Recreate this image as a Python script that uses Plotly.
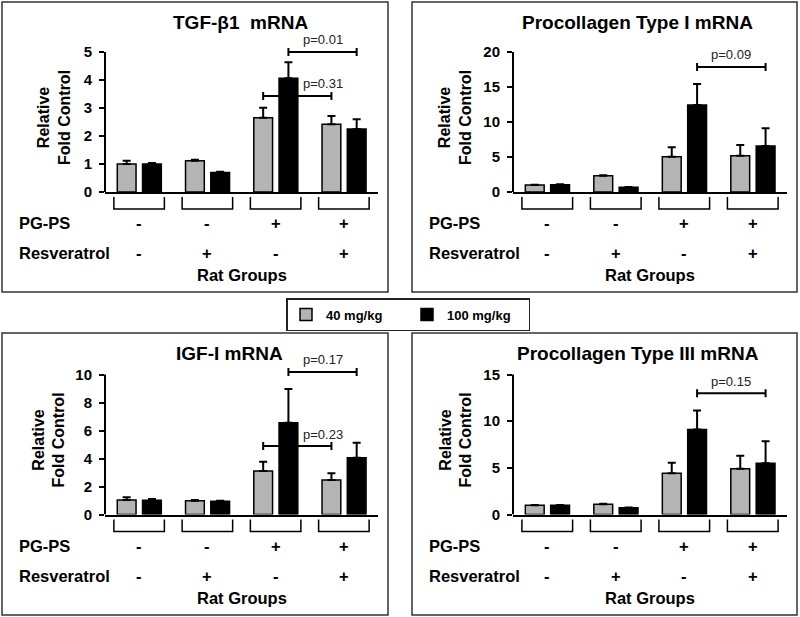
import plotly.graph_objects as go

W, H = 800, 617
FIG_H = 625  # the page capture is a bit taller than the picture; positions below are fractions

# ---- data ----
groups = [0, 1, 2, 3]
pgps = ["-", "-", "+", "+"]
resveratrol = ["-", "+", "-", "+"]
doses = ["40 mg/kg", "100 mg/kg"]

titles = ["TGF-β1  mRNA", "Procollagen Type I mRNA", "IGF-I mRNA", "Procollagen Type III mRNA"]
y_max = [5, 20, 10, 15]
y_dtick = [1, 5, 2, 5]

tgf_40 = [1.0, 1.12, 2.65, 2.42]
tgf_40_err = [0.12, 0.03, 0.36, 0.29]
tgf_100 = [1.0, 0.70, 4.06, 2.25]
tgf_100_err = [0.04, 0.02, 0.57, 0.35]

col1_40 = [1.0, 2.33, 5.05, 5.19]
col1_40_err = [0.05, 0.07, 1.33, 1.52]
col1_100 = [1.05, 0.68, 12.43, 6.57]
col1_100_err = [0.05, 0.03, 3.0, 2.53]

igf_40 = [1.04, 0.98, 3.1, 2.46]
igf_40_err = [0.19, 0.05, 0.67, 0.48]
igf_100 = [1.02, 0.95, 6.56, 4.06]
igf_100_err = [0.08, 0.04, 2.4, 1.07]

col3_40 = [1.0, 1.1, 4.43, 4.9]
col3_40_err = [0.03, 0.05, 1.11, 1.39]
col3_100 = [1.0, 0.72, 9.1, 5.5]
col3_100_err = [0.03, 0.02, 2.04, 2.36]

# p-value comparisons between group 3 and group 4: (text, dose index, bracket height)
tgf_p = [("p=0.01", 1, 5.0), ("p=0.31", 0, 3.43)]
col1_p = [("p=0.09", 1, 17.86)]
igf_p = [("p=0.17", 1, 10.18), ("p=0.23", 0, 4.89)]
col3_p = [("p=0.15", 1, 13.0)]

series = [
    [(tgf_40, tgf_40_err), (tgf_100, tgf_100_err)],
    [(col1_40, col1_40_err), (col1_100, col1_100_err)],
    [(igf_40, igf_40_err), (igf_100, igf_100_err)],
    [(col3_40, col3_40_err), (col3_100, col3_100_err)],
]
pvals = [tgf_p, col1_p, igf_p, col3_p]

# ---- layout (pixels of the 800x617 picture) ----
panels = [
    dict(box=(2, 2, 388, 292), px=(105, 378), y0=192, ytop=52, title=(240, 23), ytx=54),
    dict(box=(412, 2, 797, 292), px=(513, 787), y0=192, ytop=52, title=(637, 23), ytx=455),
    dict(box=(2, 333, 388, 615), px=(105, 378), y0=514.5, ytop=374.5, title=(229, 353), ytx=48),
    dict(box=(412, 333, 797, 615), px=(513, 787), y0=514.5, ytop=374.5, title=(638, 353), ytx=455),
]

FONT = "Liberation Sans, Arial, sans-serif"
BAR_W = 0.275
OFFS = [-0.32, 0.05]
FILLS = ["#b4b4b4", "#000000"]


def fx(px):
    return px / W


def fy(py):
    return 1 - py / H


def cx(g, d):
    return g + OFFS[d] + BAR_W / 2


def note(text, x, y, font, xref="paper", yref="paper", **kw):
    d = dict(text=text, x=x, y=y, xref=xref, yref=yref, showarrow=False, font=font,
             xanchor="center", yanchor="middle")
    d.update(kw)
    return d


fig = go.Figure()
shapes, annos, axes = [], [], {}

for i, p in enumerate(panels):
    s = "" if i == 0 else str(i + 1)
    xa, ya = "x" + s, "y" + s
    ppu = (p["y0"] - p["ytop"]) / y_max[i]
    top_px = p["ytop"] - 24

    axes["xaxis" + s] = dict(domain=[fx(p["px"][0]), fx(p["px"][1])], range=[-0.5, 3.5], anchor=ya,
                             showline=True, linecolor="black", linewidth=2, showticklabels=False,
                             ticks="", showgrid=False, zeroline=False, fixedrange=True)
    axes["yaxis" + s] = dict(domain=[fy(p["y0"]), fy(top_px)], range=[0, (p["y0"] - top_px) / ppu],
                             anchor=xa, showline=False, tickmode="array",
                             tickvals=list(range(0, y_max[i] + 1, y_dtick[i])),
                             ticks="outside", ticklen=5, tickwidth=2, tickcolor="black",
                             ticklabelstandoff=4,
                             tickfont=dict(family=FONT, size=15, color="black", weight="bold"),
                             showgrid=False, zeroline=False, fixedrange=True)

    for d in range(2):
        vals, err = series[i][d]
        fig.add_trace(go.Bar(
            x=groups, y=vals, width=BAR_W, offset=OFFS[d], name=doses[d],
            marker=dict(color=FILLS[d], line=dict(color="black", width=1.5)),
            error_y=dict(type="data", array=err, arrayminus=[0] * 4, symmetric=False,
                         color="black", thickness=2, width=4),
            xaxis=xa, yaxis=ya, showlegend=(i == 0), legendgroup=doses[d]))

    # y axis line from 0 to top tick
    shapes.append(dict(type="line", xref=xa + " domain", x0=0, x1=0, yref=ya, y0=0, y1=y_max[i],
                       line=dict(color="black", width=2)))

    # group brackets under the axis
    yt, yb = fy(p["y0"] + 5), fy(p["y0"] + 17)
    for g in groups:
        a, b = g - 0.37, g + 0.37
        shapes.append(dict(type="path", xref=xa, yref="paper",
                           path=f"M {a},{yt} L {a},{yb} L {b},{yb} L {b},{yt}",
                           line=dict(color="black", width=1.5)))

    # p-value brackets
    dd = 4 / ppu
    tx = (cx(2, 1) + cx(3, 1)) / 2
    for text, d, h in pvals[i]:
        a, b = cx(2, d), cx(3, d)
        shapes.append(dict(type="path", xref=xa, yref=ya,
                           path=f"M {a},{h - dd} L {a},{h + dd} M {a},{h} L {b},{h} "
                                f"M {b},{h - dd} L {b},{h + dd}",
                           line=dict(color="black", width=2)))
        annos.append(note(text, tx, h, dict(family=FONT, size=13, color="#222"),
                          xref=xa, yref=ya, yshift=12))

    # row labels and signs
    bold16 = dict(family=FONT, size=16.5, color="black", weight="bold")
    for label, signs, off in (("PG-PS", pgps, 31), ("Resveratrol", resveratrol, 61)):
        annos.append(note(label, fx(p["box"][0] + 15), fy(p["y0"] + off), bold16, xanchor="left"))
        for g, sg in zip(groups, signs):
            annos.append(note(sg, g, fy(p["y0"] + off), bold16, xref=xa))
    annos.append(note("Rat Groups", fx((p["px"][0] + p["px"][1]) / 2), fy(p["y0"] + 83), bold16))

    # titles
    annos.append(note(titles[i], fx(p["title"][0]), fy(p["title"][1]),
                      dict(family=FONT, size=19, color="black", weight="bold")))
    annos.append(note("Relative<br>Fold Control", fx(p["ytx"]), fy(p["y0"] - 74),
                      dict(family=FONT, size=16, color="black", weight="bold"), textangle=-90))

    # panel frame
    x0, y0, x1, y1 = p["box"]
    shapes.append(dict(type="rect", xref="paper", yref="paper", x0=fx(x0), x1=fx(x1),
                       y0=fy(y0), y1=fy(y1), line=dict(color="#333", width=1.5)))

fig.update_layout(
    width=W, height=FIG_H, margin=dict(l=0, r=0, t=0, b=0),
    paper_bgcolor="white", plot_bgcolor="white", barmode="overlay",
    shapes=shapes, annotations=annos,
    legend=dict(orientation="h", x=fx(408), xanchor="center", y=fy(298), yanchor="top",
                bordercolor="#222", borderwidth=1.5, entrywidth=76,
                font=dict(family=FONT, size=13, color="black", weight="bold")),
    **axes,
)

page_fix = "document.body.style.margin='0';document.documentElement.style.overflow='hidden';"
fig.write_html("out.html", config={"displayModeBar": False}, post_script=page_fix)
